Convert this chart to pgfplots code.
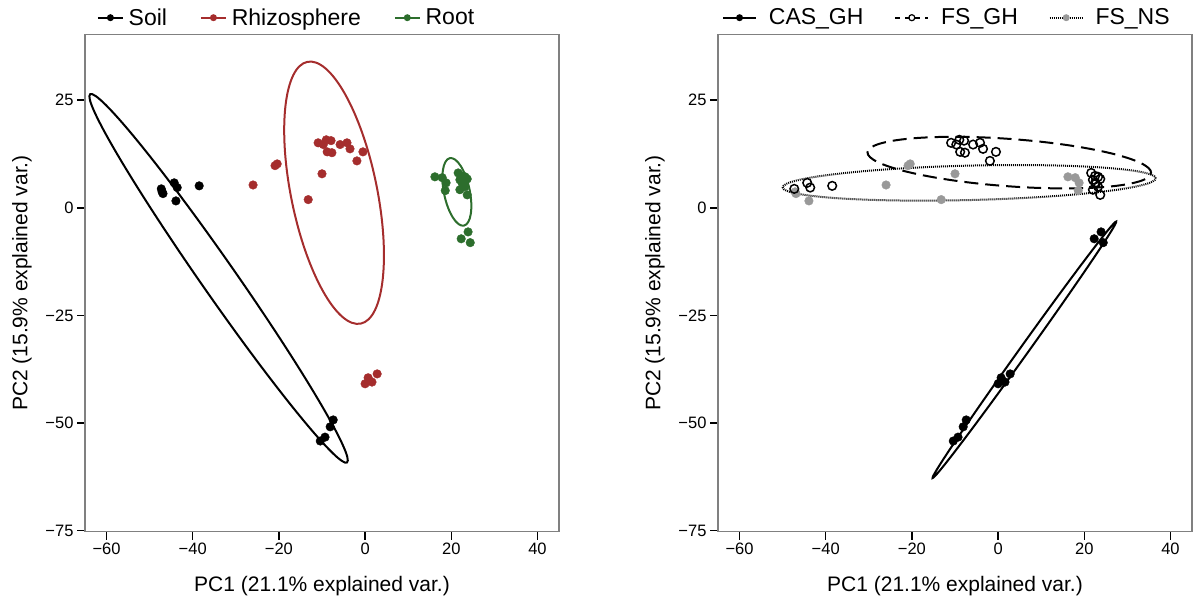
\documentclass[border=0pt]{standalone}
\usepackage{fontspec}
\setmainfont{Liberation Sans}
\usepackage{pgfplots}
\pgfplotsset{compat=1.18}
\definecolor{rhizo}{RGB}{165,45,45}
\definecolor{rootc}{RGB}{45,110,45}
\definecolor{boxgray}{RGB}{128,128,128}
\definecolor{nsgray}{RGB}{153,153,153}
\pgfplotsset{
  pcastyle/.style={
    scale only axis, width=474pt, height=497pt,
    xmin=-65, xmax=45, ymin=-75.25, ymax=40.25,
    axis line style={boxgray, line width=1.5pt},
    tick align=outside, xtick pos=bottom, ytick pos=left,
    major tick length=8pt,
    tick style={black, line width=1.5pt},
    xtick={-60,-40,-20,0,20,40},
    xticklabels={−60,−40,−20,0,20,40},
    ytick={-75,-50,-25,0,25},
    yticklabels={−75,−50,−25,0,25},
    tick label style={font=\fontsize{16.5}{18}\selectfont},
    label style={font=\fontsize{21}{24}\selectfont},
    xlabel={PC1 (21.1\% explained var.)},
    ylabel={PC2 (15.9\% explained var.)},
    x label style={at={(axis description cs:0.5,-0.11)}, anchor=center},
    y label style={at={(axis description cs:-0.133,0.5)}, anchor=center},
    legend style={draw=none, fill=none, font=\fontsize{23}{25}\selectfont,
      legend columns=-1, anchor=west, inner sep=0pt, nodes={inner sep=0pt}},
  }
}
\begin{document}
\begin{tikzpicture}
\useasboundingbox (0,0) rectangle (1193pt,604pt);
% ---------------- left panel ----------------
\begin{axis}[pcastyle, at={(85pt,72.4pt)}, anchor=south west,
  legend image code/.code={\draw[mark repeat=2,mark phase=2,#1] plot coordinates {(0pt,0pt) (12.5pt,0pt) (25pt,0pt)};},
  legend style={at={(axis description cs:0.025,1.034)},
    /tikz/every odd column/.append style={column sep=5pt},
    /tikz/every even column/.append style={column sep=33pt}}]
\addlegendimage{black, line width=1.7pt, mark=*, mark size=2.6pt}
\addlegendentry{Soil}
\addlegendimage{rhizo, line width=1.7pt, mark=*, mark size=2.6pt}
\addlegendentry{Rhizosphere}
\addlegendimage{rootc, line width=1.7pt, mark=*, mark size=2.6pt}
\addlegendentry{Root}
% Soil
\addplot[only marks, mark=*, black, mark size=4.3pt, forget plot] coordinates {
(-47.3,4.4) (-47.1,3.7) (-46.9,3.3) (-44.3,5.8) (-43.6,4.7) (-38.5,5.1) (-43.9,1.6)
(-7.4,-49.3) (-8.1,-50.9) (-9.3,-53.3) (-10.4,-54.2)};
% Rhizosphere
\addplot[only marks, mark=*, rhizo, mark size=4.3pt, forget plot] coordinates {
(-10.9,15.1) (-9.7,14.7) (-9.0,15.8) (-7.9,15.6) (-8.8,13.0) (-7.7,12.8) (-5.8,14.7)
(-4.2,15.1) (-3.5,13.7) (-0.5,13.0) (-1.9,10.9) (-20.4,10.2) (-20.9,9.8) (-10.0,7.9)
(-26.0,5.3) (-13.2,1.9) (2.8,-38.6) (0.7,-39.5) (1.6,-40.5) (0.0,-40.9)};
% Root
\addplot[only marks, mark=*, rootc, mark size=4.3pt, forget plot] coordinates {
(16.2,7.2) (17.9,7.0) (18.8,5.8) (18.6,4.0) (21.6,8.1) (22.0,6.5) (22.5,5.8) (23.7,6.7)
(23.2,4.9) (23.7,3.0) (22.0,4.2) (22.5,7.4) (23.2,7.2) (22.7,5.6)
(23.9,-5.6) (22.3,-7.2) (24.4,-8.1)};
% ellipses
\draw[black, line width=2pt, rotate around={-55.1:(axis cs:-34.0,-16.4)}]
  (axis cs:-34.0,-16.4) ellipse [x radius=52.1, y radius=4.0];
\draw[rhizo, line width=2pt, rotate around={101.5:(axis cs:-7.2,3.5)}]
  (axis cs:-7.2,3.5) ellipse [x radius=31, y radius=10.0];
\draw[rootc, line width=2pt, rotate around={101.8:(axis cs:21.3,3.7)}]
  (axis cs:21.3,3.7) ellipse [x radius=8.0, y radius=3.0];
\end{axis}
% ---------------- right panel ----------------
\begin{axis}[pcastyle, at={(718pt,72.4pt)}, anchor=south west,
  legend image code/.code={\draw[mark repeat=2,mark phase=2,#1] plot coordinates {(0pt,0pt) (16.5pt,0pt) (33pt,0pt)};},
  legend style={at={(axis description cs:0.0084,1.034)},
    /tikz/every odd column/.append style={column sep=12pt},
    /tikz/every even column/.append style={column sep=31pt}}]
\addlegendimage{black, line width=1.7pt, mark=*, mark size=2.6pt}
\addlegendentry{CAS\_GH}
\addlegendimage{black, line width=1.7pt, dash pattern=on 5pt off 5pt, mark=o, mark size=3pt, mark options={solid, line width=1.2pt}}
\addlegendentry{FS\_GH}
\addlegendimage{black, line width=1.7pt, dash pattern=on 1pt off 1pt, mark=*, mark size=2.6pt, mark options={solid, fill=nsgray, draw=nsgray}}
\addlegendentry{FS\_NS}
% FS_NS
\addplot[only marks, mark=*, nsgray, mark size=4.3pt, forget plot] coordinates {
(-47.1,3.7) (-46.9,3.3) (-43.9,1.6) (-20.4,10.2) (-20.9,9.8) (-26.0,5.3) (-13.2,1.9)
(-10.0,7.9) (16.2,7.2) (17.9,7.0) (18.8,5.8) (18.6,4.0)};
% CAS_GH
\addplot[only marks, mark=*, black, mark size=4.3pt, forget plot] coordinates {
(-7.4,-49.3) (-8.1,-50.9) (-9.3,-53.3) (-10.4,-54.2) (2.8,-38.6) (0.7,-39.5) (1.6,-40.5)
(0.0,-40.9) (23.9,-5.6) (22.3,-7.2) (24.4,-8.1)};
% FS_GH
\addplot[only marks, mark=o, black, mark size=4.3pt, line width=1.5pt, forget plot] coordinates {
(-47.3,4.4) (-44.3,5.8) (-43.6,4.7) (-38.5,5.1)
(-10.9,15.1) (-9.7,14.7) (-9.0,15.8) (-7.9,15.6) (-8.8,13.0) (-7.7,12.8) (-5.8,14.7)
(-4.2,15.1) (-3.5,13.7) (-0.5,13.0) (-1.9,10.9)
(21.6,8.1) (22.0,6.5) (22.5,5.8) (23.7,6.7) (23.2,4.9) (23.7,3.0) (22.0,4.2) (22.5,7.4)
(23.2,7.2) (22.7,5.6)};
% ellipses
\draw[black, line width=2pt, rotate around={54.4:(axis cs:6.1,-33.0)}]
  (axis cs:6.1,-33.0) ellipse [x radius=36.6, y radius=1.0];
\draw[black, line width=2pt, dash pattern=on 14pt off 7pt, rotate around={-4.2:(axis cs:2.6,10.5)}]
  (axis cs:2.6,10.5) ellipse [x radius=33, y radius=5.5];
\draw[black, line width=2pt, dash pattern=on 1pt off 1pt, rotate around={1.4:(axis cs:-6.7,5.8)}]
  (axis cs:-6.7,5.8) ellipse [x radius=43.3, y radius=4.0];
\end{axis}
\end{tikzpicture}
\end{document}
